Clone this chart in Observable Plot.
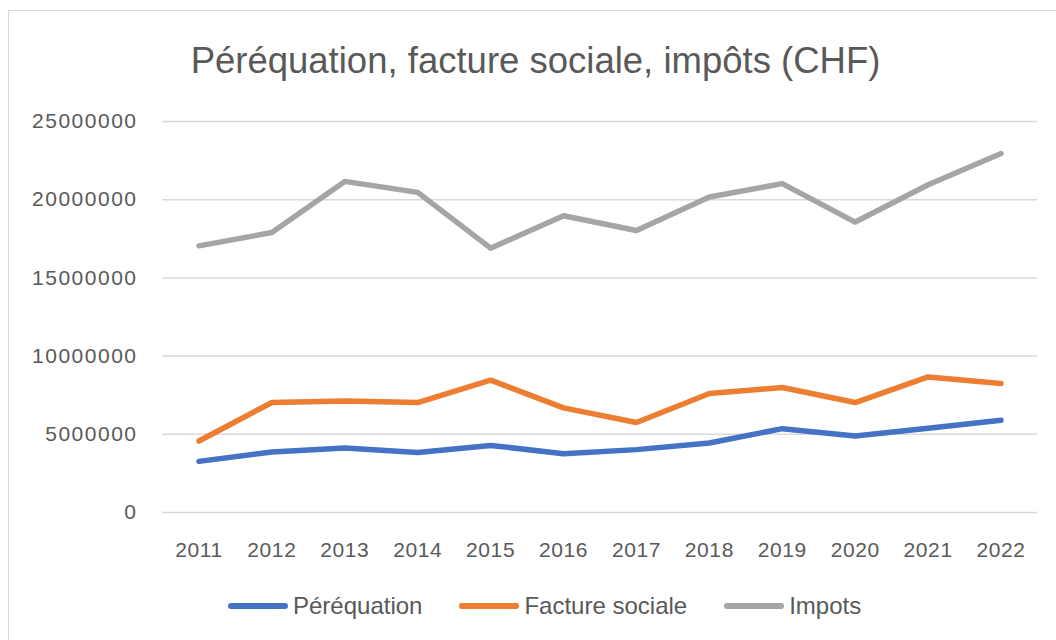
<!DOCTYPE html>
<html>
<head>
<meta charset="utf-8">
<script src="https://cdn.jsdelivr.net/npm/d3@7"></script>
<script src="https://cdn.jsdelivr.net/npm/@observablehq/plot@0.6"></script>
<style>
  html, body { margin: 0; padding: 0; background: #fff; }
  #wrap { position: relative; width: 1056px; height: 640px; overflow: hidden; font-family: "Liberation Sans", Arial, sans-serif; color: #595959; }
  #frame { position: absolute; left: 8px; top: 10px; width: 1100px; height: 700px; border: 1.5px solid #d9d9d9; box-sizing: border-box; }
  #title { position: absolute; left: 0; top: 41px; width: 1071px; text-align: center; font-size: 36.5px; line-height: 40px; white-space: nowrap; }
  #chart { position: absolute; left: 0; top: 100px; }
  #legend { position: absolute; left: 228px; top: 593px; display: flex; align-items: center; font-size: 24px; line-height: 26px; white-space: nowrap; }
  .item { display: flex; align-items: center; margin-right: 37px; }
  .sw { width: 60px; height: 6px; border-radius: 3px; margin-right: 5px; }
</style>
</head>
<body>
<div id="wrap">
  <div id="frame"></div>
  <div id="title"></div>
  <div id="chart"></div>
  <div id="legend"></div>
</div>
<script>
const titleText = "Péréquation, facture sociale, impôts (CHF)";
const years = ["2011","2012","2013","2014","2015","2016","2017","2018","2019","2020","2021","2022"];
const seriesNames = ["Péréquation", "Facture sociale", "Impots"];
const seriesColors = ["#4472C4", "#ED7D31", "#A5A5A5"];
const perequation = [3270000, 3870000, 4120000, 3830000, 4290000, 3760000, 4020000, 4440000, 5360000, 4890000, 5380000, 5900000];
const factureSociale = [4570000, 7030000, 7130000, 7030000, 8460000, 6690000, 5750000, 7610000, 7990000, 7030000, 8670000, 8250000];
const impots = [17050000, 17900000, 21170000, 20470000, 16900000, 18970000, 18030000, 20170000, 21030000, 18570000, 20960000, 22950000];
const yTicks = [0, 5000000, 10000000, 15000000, 20000000, 25000000];

document.getElementById("title").textContent = titleText;

const seriesValues = [perequation, factureSociale, impots];
const rows = [];
seriesNames.forEach((name, i) => {
  years.forEach((yr, j) => rows.push({ year: yr, value: seriesValues[i][j], series: name }));
});

const lineOpts = { x: "year", y: "value", stroke: "series", strokeWidth: 5.5, strokeLinecap: "round", strokeLinejoin: "round" };

const plot = Plot.plot({
  width: 1056,
  height: 470,
  marginLeft: 162,
  marginRight: 19,
  marginTop: 21,
  marginBottom: 58,
  style: { fontFamily: "Liberation Sans, Arial, sans-serif", fontSize: "21px", color: "#595959", background: "transparent", overflow: "visible" },
  x: { type: "point", domain: years, padding: 0.5, round: false, label: null },
  y: { domain: [0, 25000000], label: null },
  color: { domain: seriesNames, range: seriesColors },
  marks: [
    Plot.ruleY(yTicks, { stroke: "#d9d9d9", strokeWidth: 1.5 }),
    Plot.axisY(yTicks, { tickSize: 0, tickPadding: 25, tickFormat: d => String(d), fontSize: 21, label: null }),
    Plot.axisX(years, { tickSize: 0, tickPadding: 30, tickFormat: d => d, fontSize: 21, label: null }),
    Plot.line(rows.filter(r => r.series === "Impots"), lineOpts),
    Plot.line(rows.filter(r => r.series === "Facture sociale"), lineOpts),
    Plot.line(rows.filter(r => r.series === "Péréquation"), lineOpts)
  ]
});
plot.querySelectorAll('g[aria-label="y-axis tick label"] text').forEach(t => t.style.letterSpacing = "1.5px");
plot.querySelectorAll('g[aria-label="x-axis tick label"] text').forEach(t => t.style.letterSpacing = "0.6px");
document.getElementById("chart").appendChild(plot);

const legend = document.getElementById("legend");
seriesNames.forEach((name, i) => {
  const item = document.createElement("div");
  item.className = "item";
  const sw = document.createElement("div");
  sw.className = "sw";
  sw.style.background = seriesColors[i];
  const lab = document.createElement("span");
  lab.textContent = name;
  item.appendChild(sw);
  item.appendChild(lab);
  legend.appendChild(item);
});
</script>
</body>
</html>
